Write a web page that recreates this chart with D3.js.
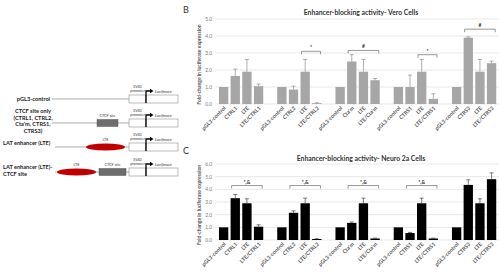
<!DOCTYPE html>
<html>
<head>
<meta charset="utf-8">
<script src="https://cdn.jsdelivr.net/npm/d3@7"></script>
<style>
  body { margin: 0; padding: 0; background: #fff; }
  text { font-family: Lato, "Open Sans", sans-serif; }
</style>
</head>
<body>
<script>
// categories (blank slots separate the groups)
const cats = [
  "pGL3-control", "CTRL1", "LTE", "LTE/CTRL1", "",
  "pGL3-control", "CTRL2", "LTE", "LTE/CTRL2", "",
  "pGL3-control", "Cta'm", "LTE", "LTE/Cta'm", "",
  "pGL3-control", "CTRS1", "LTE", "LTE/CTRS1", "",
  "pGL3-control", "CTRS3", "LTE", "LTE/CTRS3"
];

// Vero cells
const veroVals = [1, 1.65, 1.9, 1.05, null, 1, 0.85, 1.9, 0.05, null, 1, 2.5, 1.9, 1.4, null, 1, 1.0, 1.9, 0.3, null, 1, 3.9, 1.9, 2.4];
const veroErr  = [0, 0.4, 0.72, 0.12, null, 0, 0.2, 0.72, 0.02, null, 0, 0.4, 0.72, 0.1, null, 0, 0.7, 0.72, 0.3, null, 0, 0.05, 0.72, 0.12];
const veroTicks = [0, 1, 2, 3, 4, 5];
const veroSig = [
  { from: 7, to: 8, y: 3.1, label: "*" },
  { from: 11, to: 13, y: 3.15, label: "#" },
  { from: 17, to: 18, y: 2.9, label: "*" },
  { from: 21, to: 23, y: 4.4, label: "#" }
];

// Neuro 2a cells
const neuroVals = [1, 3.3, 2.9, 1.05, null, 1, 2.15, 2.9, 0.08, null, 1, 1.35, 2.9, 0.12, null, 1, 0.55, 2.9, 0.12, null, 1, 4.35, 2.9, 4.8];
const neuroErr  = [0, 0.3, 0.35, 0.15, null, 0, 0.15, 0.4, 0.02, null, 0, 0.07, 0.4, 0.03, null, 0, 0.05, 0.4, 0.03, null, 0, 0.4, 0.35, 0.5];
const neuroTicks = [0, 1, 2, 3, 4, 5, 6];
const neuroSig = [
  { from: 1, to: 3, y: 4.3, label: "*,&" },
  { from: 6, to: 8, y: 4.3, label: "*,&" },
  { from: 11, to: 13, y: 4.3, label: "*,&" },
  { from: 16, to: 18, y: 4.3, label: "*,&" }
];

const W = 499, H = 277;
const svg = d3.select("body").append("svg")
  .attr("width", W).attr("height", H)
  .attr("viewBox", [0, 0, W, H]);

const x = d3.scaleBand()
  .domain(d3.range(cats.length))
  .range([217.8, 217.8 + cats.length * 11.65])
  .paddingInner(0.2).paddingOuter(0.1);

function chart(opt) {
  const y = d3.scaleLinear().domain([0, opt.max]).range([opt.y0, opt.y1]);
  const g = svg.append("g");

  g.append("text").attr("x", 183).attr("y", opt.letterY)
    .attr("font-size", 9).attr("fill", "#333").text(opt.letter);

  g.append("text").attr("x", 361).attr("y", opt.titleY)
    .attr("text-anchor", "middle").attr("font-size", 6.8)
    .attr("font-weight", "bold").attr("fill", "#333").text(opt.title);

  // grid
  g.append("g").selectAll("line").data(opt.ticks).join("line")
    .attr("x1", 215).attr("x2", 499)
    .attr("y1", d => y(d)).attr("y2", d => y(d))
    .attr("stroke", "#d9d9d9").attr("stroke-width", 0.6);

  const yAxis = g.append("g").attr("transform", "translate(215,0)")
    .call(d3.axisLeft(y).tickValues(opt.ticks).tickSize(0).tickPadding(3));
  yAxis.select(".domain").remove();
  yAxis.selectAll("text").attr("font-size", 4.8).attr("fill", "#777")
    .attr("font-family", "Lato, sans-serif");

  g.append("text")
    .attr("transform", `translate(201,${(opt.y0 + opt.y1) / 2 + 3}) rotate(-90)`)
    .attr("text-anchor", "middle").attr("font-size", 5)
    .attr("font-weight", "bold").attr("fill", "#555")
    .text("Fold-change in luciferase expression");

  const idx = d3.range(cats.length).filter(i => opt.vals[i] != null);

  g.append("g").selectAll("rect").data(idx).join("rect")
    .attr("x", i => x(i)).attr("width", x.bandwidth())
    .attr("y", i => y(opt.vals[i]))
    .attr("height", i => y(0) - y(opt.vals[i]))
    .attr("fill", opt.color);

  const eb = g.append("g").attr("stroke", opt.errColor).attr("stroke-width", 0.7);
  const ei = idx.filter(i => opt.err[i] > 0);
  eb.selectAll("line.v").data(ei).join("line").attr("class", "v")
    .attr("x1", i => x(i) + x.bandwidth() / 2).attr("x2", i => x(i) + x.bandwidth() / 2)
    .attr("y1", i => y(opt.vals[i])).attr("y2", i => y(opt.vals[i] + opt.err[i]));
  eb.selectAll("line.c").data(ei).join("line").attr("class", "c")
    .attr("x1", i => x(i) + x.bandwidth() / 2 - 2).attr("x2", i => x(i) + x.bandwidth() / 2 + 2)
    .attr("y1", i => y(opt.vals[i] + opt.err[i])).attr("y2", i => y(opt.vals[i] + opt.err[i]));

  // x labels
  g.append("g").selectAll("text").data(idx).join("text")
    .attr("transform", i => `translate(${x(i) + x.bandwidth() / 2 + 2.5},${opt.y0 + 4.5}) rotate(-45)`)
    .attr("text-anchor", "end").attr("font-size", 5.3)
    .attr("font-weight", "bold").attr("fill", "#555")
    .text(i => cats[i]);

  // significance brackets
  const sg = g.append("g");
  opt.sig.forEach(s => {
    const xa = x(s.from) + 1, xb = x(s.to) + x.bandwidth() - 1, yy = y(s.y);
    sg.append("path")
      .attr("d", `M${xa},${yy + 3}V${yy}H${xb}V${yy + 3}`)
      .attr("fill", "none").attr("stroke", "#555").attr("stroke-width", 0.6);
    sg.append("text").attr("x", (xa + xb) / 2).attr("y", yy - 2)
      .attr("text-anchor", "middle").attr("font-size", 5).attr("font-weight", "bold")
      .attr("fill", "#333").text(s.label);
  });
}

chart({ letter: "B", letterY: 13, title: "Enhancer-blocking activity- Vero Cells", titleY: 15,
  max: 5, y0: 104, y1: 19, ticks: veroTicks, vals: veroVals, err: veroErr, sig: veroSig,
  color: "#a6a6a6", errColor: "#8c8c8c" });

chart({ letter: "C", letterY: 154, title: "Enhancer-blocking activity- Neuro 2a Cells", titleY: 161,
  max: 6, y0: 240, y1: 164, ticks: neuroTicks, vals: neuroVals, err: neuroErr, sig: neuroSig,
  color: "#000", errColor: "#444" });

// construct diagram (panel A)
const dg = svg.append("g");
const rows = [
  { y: 99, labels: ["pGL3-control"], labelX: 50, labelY: 101, anchor: "end", lineX: 52 },
  { y: 123, labels: ["CTCF site only", "(CTRL1, CTRL2,", "Cta'm, CTRS1,", "CTRS3)"], labelX: 33, labelY: 113, anchor: "middle", lineX: 52, ctcf: [97, 118] },
  { y: 147, labels: ["LAT enhancer (LTE)"], labelX: 3, labelY: 145, anchor: "start", lineX: 55, lte: [86, 125] },
  { y: 172, labels: ["LAT enhancer (LTE)-", "CTCF site"], labelX: 3, labelY: 169, anchor: "start", lineX: 55, lte: [57, 96], ctcf: [99, 126] }
];

rows.forEach(r => {
  const t = dg.append("text").attr("x", r.labelX).attr("y", r.labelY)
    .attr("text-anchor", r.anchor).attr("font-size", 5.6).attr("font-weight", "bold").attr("fill", "#222");
  r.labels.forEach((l, i) => t.append("tspan").attr("x", r.labelX).attr("dy", i ? 6.5 : 0).text(l));

  dg.append("line").attr("x1", r.lineX).attr("x2", 129).attr("y1", r.y).attr("y2", r.y)
    .attr("stroke", "#777").attr("stroke-width", 0.6);

  if (r.ctcf) {
    dg.append("rect").attr("x", r.ctcf[0]).attr("y", r.y - 3.5).attr("width", r.ctcf[1] - r.ctcf[0]).attr("height", 7)
      .attr("fill", "#6d6d6d").attr("stroke", "#444").attr("stroke-width", 0.4);
    dg.append("text").attr("x", (r.ctcf[0] + r.ctcf[1]) / 2).attr("y", r.y - 6)
      .attr("text-anchor", "middle").attr("font-size", 3.8).attr("fill", "#333").text("CTCF site");
  }
  if (r.lte) {
    dg.append("ellipse").attr("cx", (r.lte[0] + r.lte[1]) / 2).attr("cy", r.y)
      .attr("rx", (r.lte[1] - r.lte[0]) / 2).attr("ry", 3.6).attr("fill", "#c00000");
    dg.append("text").attr("x", (r.lte[0] + r.lte[1]) / 2).attr("y", r.y - 6)
      .attr("text-anchor", "middle").attr("font-size", 3.8).attr("fill", "#333").text("LTE");
  }

  // promoter box + luciferase box
  dg.append("rect").attr("x", 129).attr("y", r.y - 4).attr("width", 17).attr("height", 8)
    .attr("fill", "#fff").attr("stroke", "#777").attr("stroke-width", 0.5);
  dg.append("rect").attr("x", 146).attr("y", r.y - 4).attr("width", 32).attr("height", 8)
    .attr("fill", "#fff").attr("stroke", "#777").attr("stroke-width", 0.5);
  const pt = dg.append("text").attr("x", 137.5).attr("y", r.y - 11)
    .attr("text-anchor", "middle").attr("font-size", 3.5).attr("fill", "#333");
  pt.append("tspan").attr("x", 137.5).text("SV40");
  pt.append("tspan").attr("x", 137.5).attr("dy", 4.2).text("promoter");

  // transcription start arrow
  dg.append("path").attr("d", `M146,${r.y + 4}V${r.y - 8}H151`)
    .attr("fill", "none").attr("stroke", "#000").attr("stroke-width", 1.3);
  dg.append("path").attr("d", `M150,${r.y - 10.2}L153.5,${r.y - 8}L150,${r.y - 5.8}Z`).attr("fill", "#000");
  dg.append("text").attr("x", 155).attr("y", r.y - 6.5).attr("font-size", 4)
    .attr("font-style", "italic").attr("fill", "#333").text("Luciferase");
});
</script>
</body>
</html>
